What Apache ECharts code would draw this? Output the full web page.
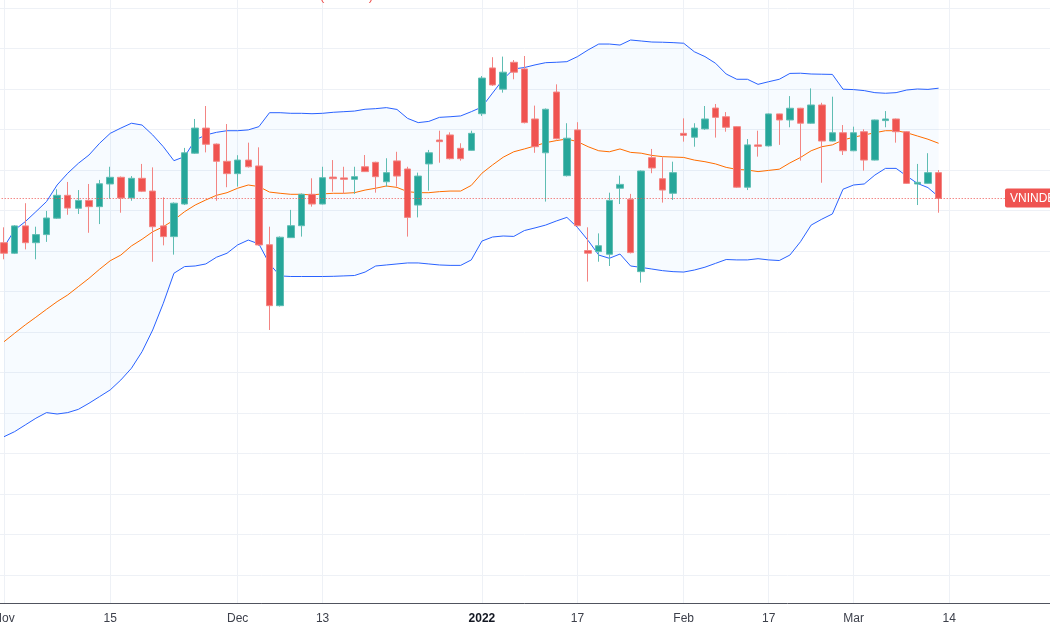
<!DOCTYPE html>
<html>
<head>
<meta charset="utf-8">
<title>VNINDEX</title>
<script src="https://cdn.jsdelivr.net/npm/echarts@6/dist/echarts.min.js"></script>
<style>
  html, body { margin: 0; padding: 0; background: #fff; }
  #report { width: 1050px; height: 630px; }
</style>
</head>
<body>
<div id="report"></div>
<script>
// trading days on the chart, then the empty days on the right of the last bar
var tradingDays = [
  '2021-11-01','2021-11-02','2021-11-03','2021-11-04','2021-11-05','2021-11-08','2021-11-09','2021-11-10','2021-11-11','2021-11-12',
  '2021-11-15','2021-11-16','2021-11-17','2021-11-18','2021-11-19','2021-11-22','2021-11-23','2021-11-24','2021-11-25','2021-11-26',
  '2021-11-29','2021-11-30','2021-12-01','2021-12-02','2021-12-03','2021-12-06','2021-12-07','2021-12-08','2021-12-09','2021-12-10',
  '2021-12-13','2021-12-14','2021-12-15','2021-12-16','2021-12-17','2021-12-20','2021-12-21','2021-12-22','2021-12-23','2021-12-24',
  '2021-12-27','2021-12-28','2021-12-29','2021-12-30','2021-12-31','2022-01-04','2022-01-05','2022-01-06','2022-01-07','2022-01-10',
  '2022-01-11','2022-01-12','2022-01-13','2022-01-14','2022-01-17','2022-01-18','2022-01-19','2022-01-20','2022-01-21','2022-01-24',
  '2022-01-25','2022-01-26','2022-01-27','2022-01-28','2022-02-07','2022-02-08','2022-02-09','2022-02-10','2022-02-11','2022-02-14',
  '2022-02-15','2022-02-16','2022-02-17','2022-02-18','2022-02-21','2022-02-22','2022-02-23','2022-02-24','2022-02-25','2022-02-28',
  '2022-03-01','2022-03-02','2022-03-03','2022-03-04','2022-03-07','2022-03-08','2022-03-09','2022-03-10','2022-03-11'
];
var futureDays = ['2022-03-14','2022-03-15','2022-03-16','2022-03-17','2022-03-18','2022-03-21','2022-03-22','2022-03-23','2022-03-24','2022-03-25'];

// OHLC
var opens = [1444.1,1438.9,1452.4,1444.1,1448.1,1456.2,1467.5,1461.1,1465.0,1461.9,1473.1,1476.4,1466.2,1475.9,1469.6,1452.4,1447.1,1463.2,1488.3,1500.7,1492.8,1484.3,1478.2,1484.9,1482.0,1443.1,1413.0,1446.6,1452.5,1468.0,1463.2,1476.5,1476.1,1475.4,1481.6,1483.8,1474.2,1484.5,1480.5,1462.7,1483.0,1494.8,1497.3,1490.7,1489.7,1507.8,1530.4,1519.9,1533.2,1529.9,1505.2,1488.5,1518.5,1477.2,1499.8,1440.2,1439.7,1438.4,1471.0,1465.5,1429.8,1486.1,1475.7,1468.5,1498.1,1496.2,1500.3,1510.6,1506.3,1501.4,1471.5,1492.4,1491.9,1507.7,1504.7,1510.5,1503.1,1512.1,1494.3,1498.4,1489.5,1498.9,1484.9,1504.4,1505.2,1498.9,1473.1,1473.4,1478.7];
var closes = [1438.9,1452.4,1444.1,1448.1,1456.3,1467.5,1461.2,1465.0,1461.9,1473.2,1476.4,1466.2,1475.9,1469.5,1452.0,1447.1,1463.6,1488.5,1500.7,1492.7,1484.3,1478.2,1484.9,1481.6,1443.0,1413.0,1446.8,1452.5,1468.0,1463.2,1476.2,1475.7,1475.4,1476.7,1479.2,1476.7,1478.7,1477.0,1456.6,1477.0,1488.5,1494.0,1485.6,1485.6,1498.1,1525.4,1522.0,1528.3,1528.3,1503.4,1491.5,1510.0,1495.5,1495.7,1452.5,1438.9,1442.6,1465.0,1472.9,1439.2,1479.5,1481.0,1470.1,1478.7,1497.1,1500.7,1505.2,1506.0,1501.1,1471.5,1492.4,1491.7,1507.7,1504.7,1510.5,1503.1,1512.1,1494.3,1498.4,1489.5,1498.4,1484.9,1504.7,1505.2,1498.9,1473.4,1473.9,1478.7,1466.0];
var lows = [1435.9,1438.5,1440.8,1435.9,1444.5,1455.8,1457.9,1458.3,1449.0,1453.3,1465.8,1458.9,1464.8,1469.1,1434.7,1442.8,1438.2,1462.7,1487.9,1488.7,1464.8,1471.5,1471.8,1481.2,1442.5,1401.0,1412.6,1446.4,1447.1,1461.9,1463.0,1469.3,1468.2,1468.2,1479.0,1468.8,1471.8,1471.8,1447.1,1456.6,1469.8,1483.6,1485.2,1484.6,1489.5,1506.7,1521.5,1518.2,1524.8,1503.0,1488.5,1464.4,1495.1,1476.8,1452.1,1424.9,1434.7,1432.6,1463.2,1438.8,1424.4,1478.4,1463.9,1465.2,1494.0,1491.5,1499.8,1496.0,1498.9,1471.1,1470.1,1486.6,1491.6,1492.4,1501.1,1484.6,1502.8,1473.7,1494.1,1487.4,1489.3,1479.7,1484.7,1501.1,1493.5,1473.1,1462.7,1473.2,1458.9];
var highs = [1451.7,1452.8,1463.6,1452.0,1459.8,1470.5,1474.1,1470.1,1473.1,1475.1,1481.6,1476.8,1477.0,1483.0,1481.3,1466.5,1464.0,1490.9,1505.2,1511.6,1493.1,1502.7,1487.3,1493.5,1491.2,1452.0,1447.2,1460.3,1468.4,1475.9,1481.6,1484.9,1481.6,1481.6,1487.4,1484.1,1485.8,1489.0,1481.6,1478.7,1489.9,1499.4,1498.6,1493.2,1499.4,1526.4,1535.7,1536.0,1534.3,1536.3,1511.8,1510.4,1522.3,1503.1,1503.6,1451.7,1448.7,1468.8,1477.2,1468.2,1479.8,1490.4,1486.3,1484.1,1505.5,1503.1,1511.6,1512.6,1508.6,1501.6,1495.3,1499.4,1507.9,1507.8,1516.5,1510.7,1520.3,1513.2,1516.2,1502.2,1501.4,1500.1,1504.9,1509.1,1505.4,1499.2,1483.0,1488.3,1480.0];

// Bollinger bands (20, 2)
var bbUpper = [1442.0,1450.4,1454.5,1459.4,1464.4,1472.6,1478.4,1483.3,1487.4,1493.2,1498.1,1500.7,1503.1,1502.2,1497.3,1491.5,1484.6,1486.6,1494.8,1497.3,1498.6,1499.4,1499.4,1499.8,1501.4,1508.3,1508.3,1508.0,1508.0,1507.8,1508.0,1508.5,1508.8,1509.1,1510.0,1510.3,1510.8,1509.9,1505.5,1503.4,1504.0,1506.0,1506.3,1506.7,1508.8,1511.1,1518.0,1524.8,1529.9,1530.6,1531.9,1533.0,1533.2,1533.5,1536.0,1539.3,1542.2,1542.2,1541.7,1544.2,1543.7,1543.2,1543.1,1542.9,1542.6,1538.4,1536.0,1532.7,1527.4,1524.8,1524.8,1522.3,1523.6,1524.8,1527.7,1527.8,1527.4,1527.3,1527.2,1519.9,1519.7,1519.2,1518.2,1517.9,1518.2,1519.5,1520.0,1519.8,1520.4];
var bbMiddle = [1395.2,1399.4,1403.5,1407.3,1411.2,1415.0,1418.3,1422.4,1426.5,1431.0,1435.2,1438.0,1442.5,1445.8,1449.5,1452.0,1455.3,1459.4,1462.7,1465.2,1467.5,1468.8,1471.0,1472.6,1471.8,1469.1,1468.5,1468.0,1468.0,1467.7,1468.2,1468.5,1468.5,1468.8,1470.1,1471.0,1472.1,1471.4,1469.3,1468.8,1468.8,1469.3,1469.6,1469.6,1472.4,1478.4,1482.5,1486.3,1489.0,1490.4,1491.9,1493.5,1494.5,1495.3,1494.0,1491.5,1489.5,1489.0,1490.4,1488.7,1488.3,1487.2,1486.6,1486.4,1486.2,1484.9,1484.1,1483.0,1481.3,1480.3,1480.0,1479.2,1479.8,1480.4,1483.5,1486.2,1489.5,1491.5,1492.4,1494.8,1496.2,1497.3,1498.4,1499.4,1499.4,1498.4,1496.8,1495.2,1493.2];
var bbLower = [1348.3,1350.8,1354.1,1357.4,1360.2,1359.5,1360.2,1361.8,1364.8,1368.1,1371.4,1376.3,1382.1,1390.3,1401.0,1414.2,1429.0,1432.3,1432.6,1433.6,1436.9,1438.9,1443.0,1445.4,1443.5,1433.6,1427.7,1427.4,1427.4,1427.4,1427.4,1427.5,1427.7,1427.9,1429.6,1432.6,1433.1,1433.6,1434.1,1434.1,1433.6,1433.1,1432.9,1432.9,1435.6,1444.9,1446.9,1447.4,1447.2,1450.1,1451.4,1452.8,1454.8,1456.6,1451.6,1445.2,1438.0,1436.4,1438.5,1432.6,1431.9,1431.1,1430.3,1429.8,1429.6,1430.6,1432.0,1433.9,1435.8,1435.6,1435.6,1436.2,1435.6,1435.3,1438.0,1444.6,1452.8,1455.7,1458.3,1470.5,1472.6,1473.1,1477.5,1480.8,1480.8,1477.0,1473.4,1471.3,1466.8];

// time scale labels
var tickDays = ['2021-11-01','2021-11-15','2021-12-01','2021-12-13','2022-01-04','2022-01-17','2022-02-07','2022-02-17','2022-03-01','2022-03-14'];
var tickTexts = ['Nov','15','Dec','13','2022','17','Feb','17','Mar','14'];

var symbolName = 'VNINDEX';
var changeText = '(\u22120.86%)';

var upColor = '#26a69a';
var downColor = '#ef5350';

var allDays = tradingDays.concat(futureDays);
var candleData = [], middleData = [], lowerData = [], bandData = [];
for (var i = 0; i < tradingDays.length; i++) {
    candleData.push([tradingDays[i], opens[i], closes[i], lows[i], highs[i]]);
    middleData.push([tradingDays[i], bbMiddle[i]]);
    lowerData.push([tradingDays[i], bbLower[i]]);
    // filled band = upper minus lower, stacked on the lower line
    bandData.push([tradingDays[i], +(bbUpper[i] - bbLower[i]).toFixed(2)]);
}
var lastClose = closes[closes.length - 1];

function isTick(index, value) {
    return tickDays.indexOf(value) >= 0;
}

var myChart = echarts.init(document.getElementById('report'));
var option = {
    animation: false,
    backgroundColor: '#ffffff',
    grid: [
        { left: -1.3, right: -0.1, top: 8, bottom: 55, outerBoundsMode: 'none', containLabel: false },
        { left: -1.3, right: -0.1, top: 0, bottom: 27, outerBoundsMode: 'none', containLabel: false }
    ],
    xAxis: [
        { type: 'category', gridIndex: 0, data: allDays, boundaryGap: true, show: false },
        {
            type: 'category', gridIndex: 1, data: allDays, boundaryGap: true,
            axisLine: { lineStyle: { color: '#50535e', width: 1 } },
            axisTick: { show: false, alignWithLabel: true },
            axisLabel: {
                interval: isTick,
                margin: 10,
                color: '#3d404b',
                fontSize: 12,
                fontFamily: 'Liberation Sans',
                hideOverlap: false,
                formatter: function (value) {
                    var t = tickTexts[tickDays.indexOf(value)];
                    return t === '2022' ? '{y|' + t + '}' : t;
                },
                rich: { y: { fontWeight: 'bold', color: '#131722', fontSize: 12, fontFamily: 'Liberation Sans' } }
            },
            splitLine: { show: true, interval: isTick, alignWithLabel: true, lineStyle: { color: '#eef1f6', width: 1 } }
        }
    ],
    yAxis: [
        {
            type: 'value', gridIndex: 0, min: 1280, max: 1560, interval: 20,
            axisLine: { show: false }, axisTick: { show: false }, axisLabel: { show: false },
            splitLine: { lineStyle: { color: '#eef1f6', width: 1 } }
        },
        { type: 'value', gridIndex: 1, show: false, splitLine: { show: false } }
    ],
    series: [
        {
            name: 'BB lower', type: 'line', xAxisIndex: 0, yAxisIndex: 0,
            data: lowerData, stack: 'bb', symbol: 'none', z: 2,
            lineStyle: { color: '#2962ff', width: 1 }
        },
        {
            name: 'BB upper', type: 'line', xAxisIndex: 0, yAxisIndex: 0,
            data: bandData, stack: 'bb', symbol: 'none', z: 2,
            lineStyle: { color: '#2962ff', width: 1 },
            areaStyle: { color: 'rgba(33,150,243,0.05)' }
        },
        {
            name: 'BB basis', type: 'line', xAxisIndex: 0, yAxisIndex: 0,
            data: middleData, symbol: 'none', z: 2,
            lineStyle: { color: '#ff6d00', width: 1 }
        },
        {
            name: symbolName, type: 'candlestick', xAxisIndex: 0, yAxisIndex: 0,
            data: candleData, encode: { x: 0, y: [1, 2, 3, 4] },
            barWidth: 7, z: 3,
            itemStyle: {
                color: upColor, color0: downColor,
                borderColor: '#5fbdb3', borderColor0: '#f38583', borderWidth: 1
            },
            markLine: {
                silent: true, symbol: ['none', 'none'],
                label: { show: false },
                lineStyle: { color: downColor, type: [1, 2], width: 1 },
                data: [{ yAxis: lastClose }]
            }
        }
    ]
};
myChart.setOption(option);

// price tag on the right edge, and the legend text cut by the top edge
var py = Math.round(myChart.convertToPixel({ yAxisIndex: 0 }, lastClose));
myChart.setOption({
    graphic: [
        {
            type: 'rect', z: 100,
            shape: { x: 1005, y: py - 9.5, width: 60, height: 19, r: 2 },
            style: { fill: downColor }
        },
        {
            type: 'text', z: 101,
            style: {
                text: symbolName, x: 1010, y: py + 0.5,
                fill: '#ffffff', font: '12px "Liberation Sans Narrow", "Liberation Sans"', verticalAlign: 'middle'
            }
        },
        {
            type: 'text', z: 101,
            style: {
                text: changeText, x: 320, y: 3,
                fill: downColor, font: '13px "Liberation Sans"', verticalAlign: 'bottom'
            }
        }
    ]
});
</script>
</body>
</html>
